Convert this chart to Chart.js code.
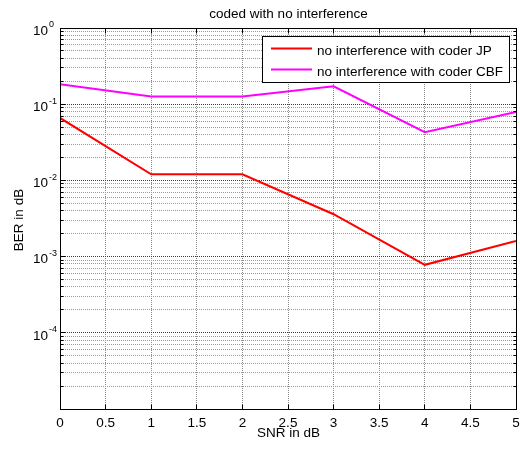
<!DOCTYPE html>
<html>
<head>
<meta charset="utf-8">
<script src="https://cdn.jsdelivr.net/npm/chart.js@4.4.1/dist/chart.umd.min.js"></script>
<style>
  html, body { margin: 0; padding: 0; background: #fff; overflow: hidden; }
  canvas { display: block; }
</style>
</head>
<body>
<canvas id="berChart" width="520" height="450"></canvas>
<script>
/* data */
const snrValues = [0, 1, 2, 3, 4, 5];
const berJP = [0.066, 0.012, 0.012, 0.0036, 0.00078, 0.0016];
const berCBF = [0.183, 0.126, 0.126, 0.172, 0.043, 0.079];
const seriesLabels = ["no interference with coder JP", "no interference with coder CBF"];
const seriesColors = ["#ff0000", "#ff00ff"];
const xTickLabels = ["0", "0.5", "1", "1.5", "2", "2.5", "3", "3.5", "4", "4.5", "5"];
const yDecades = [-5, -4, -3, -2, -1];
const yLabelDecades = [-4, -3, -2, -1, 0];
const chartTitle = "coded with no interference";
const xTitle = "SNR in dB";
const yTitle = "BER in dB";

const FONT = "'Liberation Sans', Arial, sans-serif";

/* log ticks 1..9 per decade, like matlab */
const yTicks = [];
yDecades.forEach(function (e) {
  for (let k = 1; k <= 9; k++) {
    yTicks.push({ value: Number((k * Math.pow(10, e)).toPrecision(3)), major: k === 1 });
  }
});
yTicks.push({ value: 1, major: true });

function align(p) {
  return Math.round(p - 0.5) + 0.5;
}

/* frame, inner ticks, labels and legend */
const matlabFrame = {
  id: "matlabFrame",
  afterDraw(chart) {
    const ctx = chart.ctx;
    const x = chart.scales.x;
    const y = chart.scales.y;
    const L = align(x.getPixelForValue(0));
    const R = align(x.getPixelForValue(5));
    const T = align(y.getPixelForValue(1));
    const B = align(y.getPixelForValue(1e-5));

    ctx.save();
    ctx.strokeStyle = "#000";
    ctx.lineWidth = 1;
    ctx.strokeRect(L, T, R - L, B - T);

    ctx.beginPath();
    xTickLabels.forEach(function (lab, i) {
      const px = align(x.getPixelForValue(i * 0.5));
      ctx.moveTo(px, B); ctx.lineTo(px, B - 5);
      ctx.moveTo(px, T); ctx.lineTo(px, T + 5);
    });
    yTicks.forEach(function (t) {
      const py = align(y.getPixelForValue(t.value));
      const len = t.major ? 5 : 3;
      ctx.moveTo(L, py); ctx.lineTo(L + len, py);
      ctx.moveTo(R, py); ctx.lineTo(R - len, py);
    });
    ctx.stroke();

    /* y tick labels with exponent */
    ctx.fillStyle = "#000";
    yLabelDecades.forEach(function (e) {
      const py = y.getPixelForValue(Math.pow(10, e));
      ctx.font = "13.5px " + FONT;
      ctx.textAlign = "right";
      ctx.textBaseline = "middle";
      ctx.fillText("10", 48, py + 3);
      ctx.font = "9px " + FONT;
      ctx.textAlign = "left";
      ctx.fillText(String(e), 49, py - 3);
    });

    /* titles */
    ctx.font = "13.5px " + FONT;
    ctx.textAlign = "center";
    ctx.textBaseline = "alphabetic";
    ctx.fillText(chartTitle, (L + R) / 2, 18);
    ctx.fillText(xTitle, (L + R) / 2, 437);
    ctx.save();
    ctx.translate(23, 220);
    ctx.rotate(-Math.PI / 2);
    ctx.fillText(yTitle, 0, 0);
    ctx.restore();

    /* legend */
    ctx.fillStyle = "#fff";
    ctx.fillRect(262.5, 36.5, 247, 46);
    ctx.strokeStyle = "#000";
    ctx.strokeRect(262.5, 36.5, 247, 46);
    chart.data.datasets.forEach(function (ds, i) {
      const ly = 48.5 + i * 21;
      ctx.strokeStyle = ds.borderColor;
      ctx.lineWidth = 2;
      ctx.beginPath();
      ctx.moveTo(271, ly);
      ctx.lineTo(312, ly);
      ctx.stroke();
      ctx.fillStyle = "#000";
      ctx.textAlign = "left";
      ctx.textBaseline = "alphabetic";
      ctx.fillText(ds.label, 317, 55 + i * 21);
    });
    ctx.restore();
  }
};

const ctx = document.getElementById("berChart").getContext("2d");
new Chart(ctx, {
  type: "line",
  data: {
    datasets: [
      {
        label: seriesLabels[0],
        data: snrValues.map(function (s, i) { return { x: s, y: berJP[i] }; }),
        borderColor: seriesColors[0],
        backgroundColor: seriesColors[0],
        borderWidth: 2,
        pointRadius: 0,
        tension: 0
      },
      {
        label: seriesLabels[1],
        data: snrValues.map(function (s, i) { return { x: s, y: berCBF[i] }; }),
        borderColor: seriesColors[1],
        backgroundColor: seriesColors[1],
        borderWidth: 2,
        pointRadius: 0,
        tension: 0
      }
    ]
  },
  options: {
    responsive: false,
    devicePixelRatio: 1,
    animation: false,
    layout: { padding: { top: 28, right: 4, left: 0, bottom: 0 } },
    plugins: {
      legend: { display: false },
      title: { display: false },
      tooltip: { enabled: false }
    },
    scales: {
      x: {
        type: "linear",
        min: 0,
        max: 5,
        ticks: {
          stepSize: 0.5,
          autoSkip: false,
          maxRotation: 0,
          padding: 6,
          color: "#000",
          font: { family: FONT, size: 13.5 },
          callback: function (v, i) { return xTickLabels[i]; }
        },
        grid: { color: "#8a8a8a", drawTicks: false },
        border: { color: "#000", width: 1, dash: [1, 1] },
        afterFit: function (s) { s.height = 41; s.paddingLeft = 0; s.paddingRight = 0; }
      },
      y: {
        type: "logarithmic",
        min: 1e-5,
        max: 1,
        afterBuildTicks: function (s) { s.ticks = yTicks.map(function (t) { return { value: t.value, major: t.major }; }); },
        ticks: { display: false },
        grid: {
          drawTicks: false,
          color: function (c) { return c.tick && c.tick.major ? "#3c3c3c" : "#9a9a9a"; }
        },
        border: { color: "#000", width: 1, dash: [1, 1] },
        afterFit: function (s) { s.width = 60; s.paddingTop = 0; s.paddingBottom = 0; }
      }
    }
  },
  plugins: [matlabFrame]
});
</script>
</body>
</html>
